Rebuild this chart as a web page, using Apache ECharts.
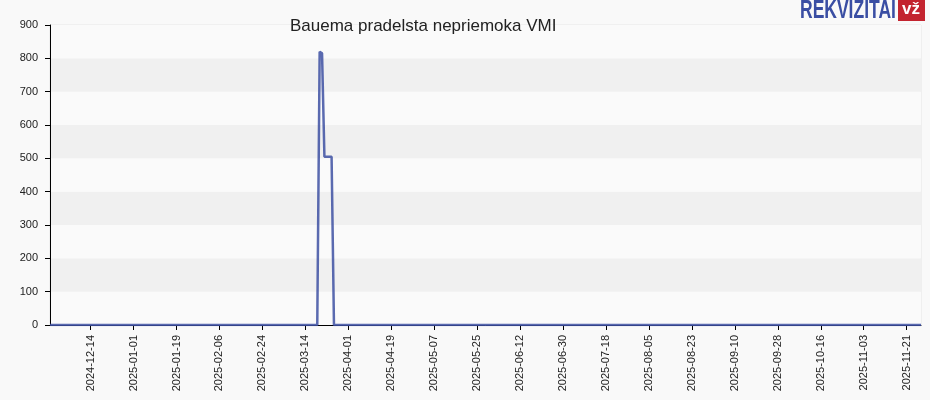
<!DOCTYPE html>
<html>
<head>
<meta charset="utf-8">
<script src="https://cdn.jsdelivr.net/npm/echarts@6/dist/echarts.min.js"></script>
<style>
html,body{margin:0;padding:0;background:#f9f9f9;}
#c{width:930px;height:400px;}
</style>
</head>
<body>
<div id="c"></div>
<script>
const titleText = 'Bauema pradelsta nepriemoka VMI';
const axisStart = '2024-11-27';
const axisEnd = '2025-11-27';
const dates = ['2024-11-27','2025-03-19','2025-03-20','2025-03-21','2025-03-22','2025-03-23','2025-03-24','2025-03-25','2025-03-26','2025-11-27'];
const values = [0, 0, 820, 815, 505, 505, 505, 505, 0, 0];
const tickDates = ['2024-12-14','2025-01-01','2025-01-19','2025-02-06','2025-02-24','2025-03-14','2025-04-01','2025-04-19','2025-05-07','2025-05-25','2025-06-12','2025-06-30','2025-07-18','2025-08-05','2025-08-23','2025-09-10','2025-09-28','2025-10-16','2025-11-03','2025-11-21'];
const yMax = 900;
const yStep = 100;

const DAY = 86400000;
function ts(s){ const p = s.split('-').map(Number); return Date.UTC(p[0], p[1]-1, p[2]) / DAY; }
function fmt(v){ const d = new Date(Math.round(v) * DAY); const m = d.getUTCMonth()+1, dd = d.getUTCDate(); return d.getUTCFullYear()+'-'+(m<10?'0':'')+m+'-'+(dd<10?'0':'')+dd; }

const chart = echarts.init(document.getElementById('c'), null, {renderer:'canvas'});
chart.setOption({
  backgroundColor: '#f9f9f9',
  animation: false,
  title: {
    text: titleText, left: 285, top: 13,
    textStyle: {fontFamily: 'Liberation Sans, Arial, sans-serif', fontSize: 17, fontWeight: 'normal', color: '#222'}
  },
  grid: {left: 50, right: 9, top: 25, bottom: 75, show: true, borderColor: '#e6e6e6', borderWidth: 1, backgroundColor: 'transparent'},
  xAxis: {
    type: 'value',
    min: ts(axisStart), max: ts(axisEnd),
    axisLine: {show: true, onZero: false, lineStyle: {color: '#000', width: 1}},
    axisTick: {show: true, length: 5, lineStyle: {color: '#000'}, customValues: tickDates.map(ts)},
    axisLabel: {
      rotate: 90, color: '#222', fontSize: 11, fontFamily: 'Liberation Sans, Arial, sans-serif',
      customValues: tickDates.map(ts), formatter: v => fmt(v), margin: 10, hideOverlap: false
    },
    splitLine: {show: false}
  },
  yAxis: {
    type: 'value', min: 0, max: yMax, interval: yStep,
    axisLine: {show: true, lineStyle: {color: '#000', width: 1}},
    axisTick: {show: true, length: 5, lineStyle: {color: '#000'}},
    axisLabel: {color: '#222', fontSize: 11, fontFamily: 'Liberation Sans, Arial, sans-serif', margin: 12},
    splitLine: {show: false},
    splitArea: {show: true, areaStyle: {color: ['#fafafa', '#f0f0f0']}}
  },
  series: [{
    type: 'line',
    data: dates.map((d, i) => [ts(d), values[i]]),
    showSymbol: false,
    symbol: 'none',
    lineStyle: {color: '#3d50a2', width: 2.5, opacity: 0.85},
    z: 5
  }],
  graphic: [
    {type: 'text', x: 800, y: -1, scaleX: 0.7, style: {text: 'REKVIZITAI', fontFamily: 'Liberation Sans, Arial, sans-serif', fontWeight: 'bold', fontSize: 25, fill: '#3a4ea3'}},
    {type: 'rect', shape: {x: 898, y: 0, width: 27, height: 21}, style: {fill: '#c3242f'}},
    {type: 'text', x: 902, y: 1, style: {text: 'vž', fontFamily: 'Liberation Sans, Arial, sans-serif', fontWeight: 'bold', fontSize: 17, fill: '#fff'}}
  ]
});
</script>
</body>
</html>
